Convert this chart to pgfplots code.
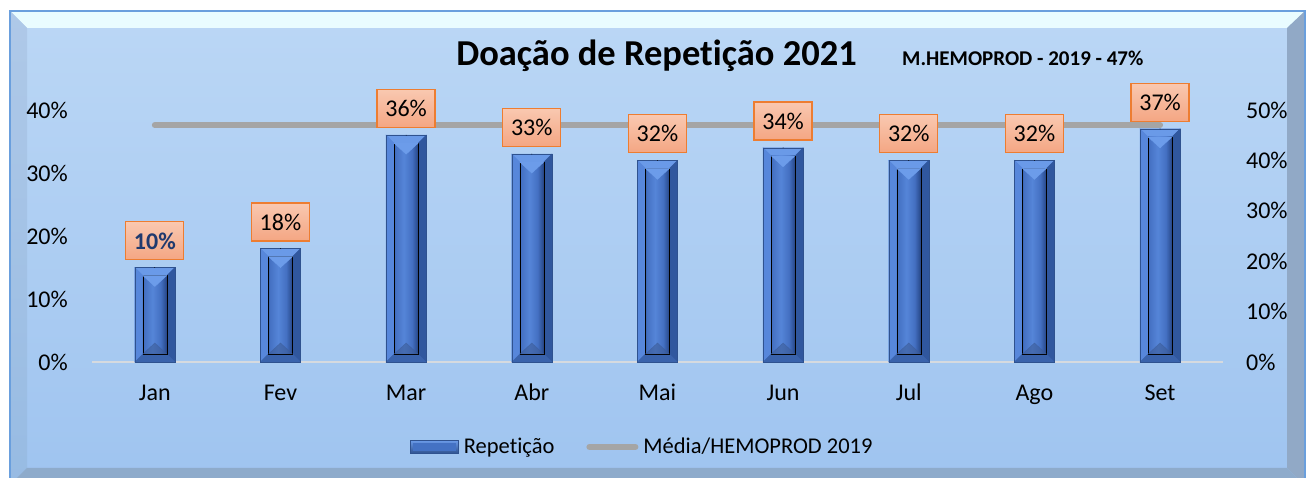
\documentclass[border=0pt]{standalone}
\usepackage{fontspec}
\setmainfont{Carlito}[Ligatures=NoCommon]
\usepackage{pgfplots}
\pgfplotsset{compat=1.18}

\definecolor{bgtop}{HTML}{BBD7F5}
\definecolor{bgbot}{HTML}{9FC4F0}
\definecolor{striptop}{HTML}{E9FCFF}
\definecolor{lefttop}{HTML}{AFC9E8}
\definecolor{leftbot}{HTML}{97BBE3}
\definecolor{stripright}{HTML}{91A9C6}
\definecolor{stripbot}{HTML}{8EABCB}
\definecolor{borderblue}{HTML}{6A9FDD}
\definecolor{baseGray}{HTML}{D6DADF}
\definecolor{lineGray}{HTML}{A5A5A5}
\definecolor{labTop}{HTML}{F9C8B0}
\definecolor{labBot}{HTML}{F4A683}
\definecolor{labBorder}{HTML}{ED7D31}
\definecolor{labnavy}{HTML}{203A6E}
\definecolor{barmid}{HTML}{4472C4}
\definecolor{bardark}{HTML}{2F528F}
\definecolor{bevTop}{HTML}{6A9AE8}
\definecolor{bevLeft}{HTML}{5787DB}
\definecolor{bevRight}{HTML}{30579E}
\definecolor{bevBot}{HTML}{3A63AC}
\definecolor{triTop}{HTML}{6C9CEA}
\definecolor{triBot}{HTML}{3C5C98}
\definecolor{inA}{HTML}{3560A8}
\definecolor{inB}{HTML}{4470C2}
\definecolor{inC}{HTML}{5585D8}
\definecolor{inD}{HTML}{2F5399}
\definecolor{inE}{HTML}{284684}

\pgfdeclarehorizontalshading{innerbar}{100bp}{color(0bp)=(inA); color(25bp)=(inA); color(27bp)=(inB); color(45bp)=(inC); color(62bp)=(inB); color(71bp)=(inD); color(74bp)=(inE); color(75bp)=(inA); color(100bp)=(inA)}

\newcommand\fs{\fontsize{24}{29}\selectfont}

\begin{document}
\begin{tikzpicture}
\useasboundingbox (0,0) rectangle (1310pt,478pt);
% frame
\begin{scope}
\clip (0,0) rectangle (1310pt,478pt);
\fill[white] (0,0) rectangle (1310pt,478pt);
\shade[top color=bgtop, bottom color=bgbot] (10pt,0pt) rectangle (1305pt,467pt);
\fill[striptop] (10pt,467pt) -- (1305pt,467pt) -- (1287pt,450pt) -- (27pt,450pt) -- cycle;
\shade[top color=lefttop, bottom color=leftbot] (10pt,467pt) -- (27pt,450pt) -- (27pt,10pt) -- (10pt,-7pt) -- cycle;
\fill[stripright] (1305pt,467pt) -- (1287pt,450pt) -- (1287pt,10pt) -- (1305pt,-8pt) -- cycle;
\fill[stripbot] (27pt,10pt) -- (1287pt,10pt) -- (1305pt,-8pt) -- (10pt,-7pt) -- cycle;
\draw[borderblue, line width=1.2pt] (10pt,-5pt) -- (10pt,467pt) -- (1305pt,467pt) -- (1305pt,-5pt);
\end{scope}

% titles
\node[anchor=base, inner sep=0pt, font=\bfseries\fontsize{36.5}{44}\selectfont] at (656.5pt,412pt) {Doação de Repet\kern0pt ição 2021};
\node[anchor=base west, inner sep=0pt, font=\bfseries\fontsize{21}{25}\selectfont] at (902pt,412pt) {M.HEMOPROD - 2019 - 47\%};

% right axis with the reference line
\begin{axis}[
  at={(92pt,116pt)}, anchor=south west,
  scale only axis, width=1131pt, height=252pt,
  xmin=-0.5, xmax=8.5, ymin=0, ymax=50,
  clip=false,
  axis x line=none, axis y line*=right,
  y axis line style={draw=none},
  major tick length=0pt, tick style={draw=none},
  ytick={0,10,20,30,40,50},
  yticklabels={0\%,10\%,20\%,30\%,40\%,50\%},
  yticklabel style={anchor=west, inner sep=0pt, xshift=23pt, font=\fs},
]
\addplot[lineGray, line width=6pt, line cap=round] coordinates {
  (0,47) (1,47) (2,47) (3,47) (4,47) (5,47) (6,47) (7,47) (8,47)};
\end{axis}

% left axis with the bars
\begin{axis}[
  at={(92pt,116pt)}, anchor=south west,
  scale only axis, width=1131pt, height=252pt,
  xmin=-0.5, xmax=8.5, ymin=0, ymax=40,
  clip=false,
  axis x line*=bottom, axis y line*=left,
  x axis line style={draw=baseGray, line width=2pt, -},
  y axis line style={draw=none},
  major tick length=0pt, tick style={draw=none},
  ytick={0,10,20,30,40},
  yticklabels={0\%,10\%,20\%,30\%,40\%},
  yticklabel style={anchor=east, inner sep=0pt, xshift=-24pt, font=\fs},
  xtick={0,1,2,3,4,5,6,7,8},
  xticklabels={Jan,Fev,Mar,Abr,Mai,Jun,Jul,Ago,Set},
  xticklabel style={anchor=base, inner sep=0pt, yshift=-39pt, font=\fs},
  legend style={draw=none, fill=none, at={(0.4867,-0.337)}, anchor=center,
     legend columns=2, font=\fontsize{22.5}{27}\selectfont,
     /tikz/every odd column/.append style={column sep=3pt},
     /tikz/every even column/.append style={column sep=30pt}},
]
\addplot[ybar, bar width=40pt, fill=barmid, draw=bardark, line width=0.5pt,
  point meta=explicit symbolic,
  nodes near coords={\ifnum\pgfplotspointmeta=10 \textbf{\textcolor{labnavy}{10\%}}\else\pgfplotspointmeta\%\fi},
  every node near coord/.append style={anchor=south, yshift=7pt, draw=labBorder,
     line width=1.3pt, top color=labTop, bottom color=labBot,
     minimum width=58pt, minimum height=38pt, inner sep=0pt, font=\fs, text=black},
  legend image code/.code={
    \shade[top color=bevTop, bottom color=bardark, draw=bardark, line width=0.5pt] (0pt,-6.5pt) rectangle (48pt,6.5pt);
    \fill[barmid] (3pt,-3.5pt) rectangle (45pt,3.5pt);}]
  coordinates {(0,15)[10] (1,18)[18] (2,36)[36] (3,33)[33] (4,32)[32]
               (5,34)[34] (6,32)[32] (7,32)[32] (8,37)[37]};
\addlegendentry{Repet\kern0pt ição}
% bevel decoration drawn on each bar from the same data
\addplot[forget plot, scatter, only marks, mark=*, mark size=0.1pt,
  mark options={draw=none, fill=none},
  visualization depends on={rawy \as \ry},
  scatter/@pre marker code/.code={%
    \begin{scope}
    \pgfkeys{/pgf/fpu=false}%
    \pgfmathsetmacro\bvH{-\ry*6.3}%
    \pgfmathsetmacro\bvB{8-\ry*6.3}%
    \pgfmathsetmacro\bvT{19-\ry*6.3}%
    \fill[bevTop] (-20pt,0pt) -- (20pt,0pt) -- (12pt,-8pt) -- (-12pt,-8pt) -- cycle;
    \fill[bevLeft] (-20pt,0pt) -- (-12pt,-8pt) -- (-12pt,\bvB pt) -- (-20pt,\bvH pt) -- cycle;
    \fill[bevRight] (20pt,0pt) -- (12pt,-8pt) -- (12pt,\bvB pt) -- (20pt,\bvH pt) -- cycle;
    \fill[bevBot] (-20pt,\bvH pt) -- (-12pt,\bvB pt) -- (12pt,\bvB pt) -- (20pt,\bvH pt) -- cycle;
    \shade[shading=innerbar] (-12pt,-8pt) rectangle (12pt,\bvB pt);
    \fill[triTop] (-12pt,-8pt) -- (12pt,-8pt) -- (0pt,-19pt) -- cycle;
    \fill[triBot, opacity=0.6] (-12pt,\bvB pt) -- (12pt,\bvB pt) -- (0pt,\bvT pt) -- cycle;
    \draw[bardark, line width=0.5pt] (-20pt,0pt) rectangle (20pt,\bvH pt);
    \end{scope}},
  scatter/@post marker code/.code={}]
  coordinates {(0,15) (1,18) (2,36) (3,33) (4,32) (5,34) (6,32) (7,32) (8,37)};
\addlegendimage{legend image code/.code={\draw[lineGray, line width=6pt, line cap=round] (3pt,0pt) -- (49pt,0pt);}}
\addlegendentry{Média/HEMOPROD 2019}
\end{axis}
\end{tikzpicture}
\end{document}
